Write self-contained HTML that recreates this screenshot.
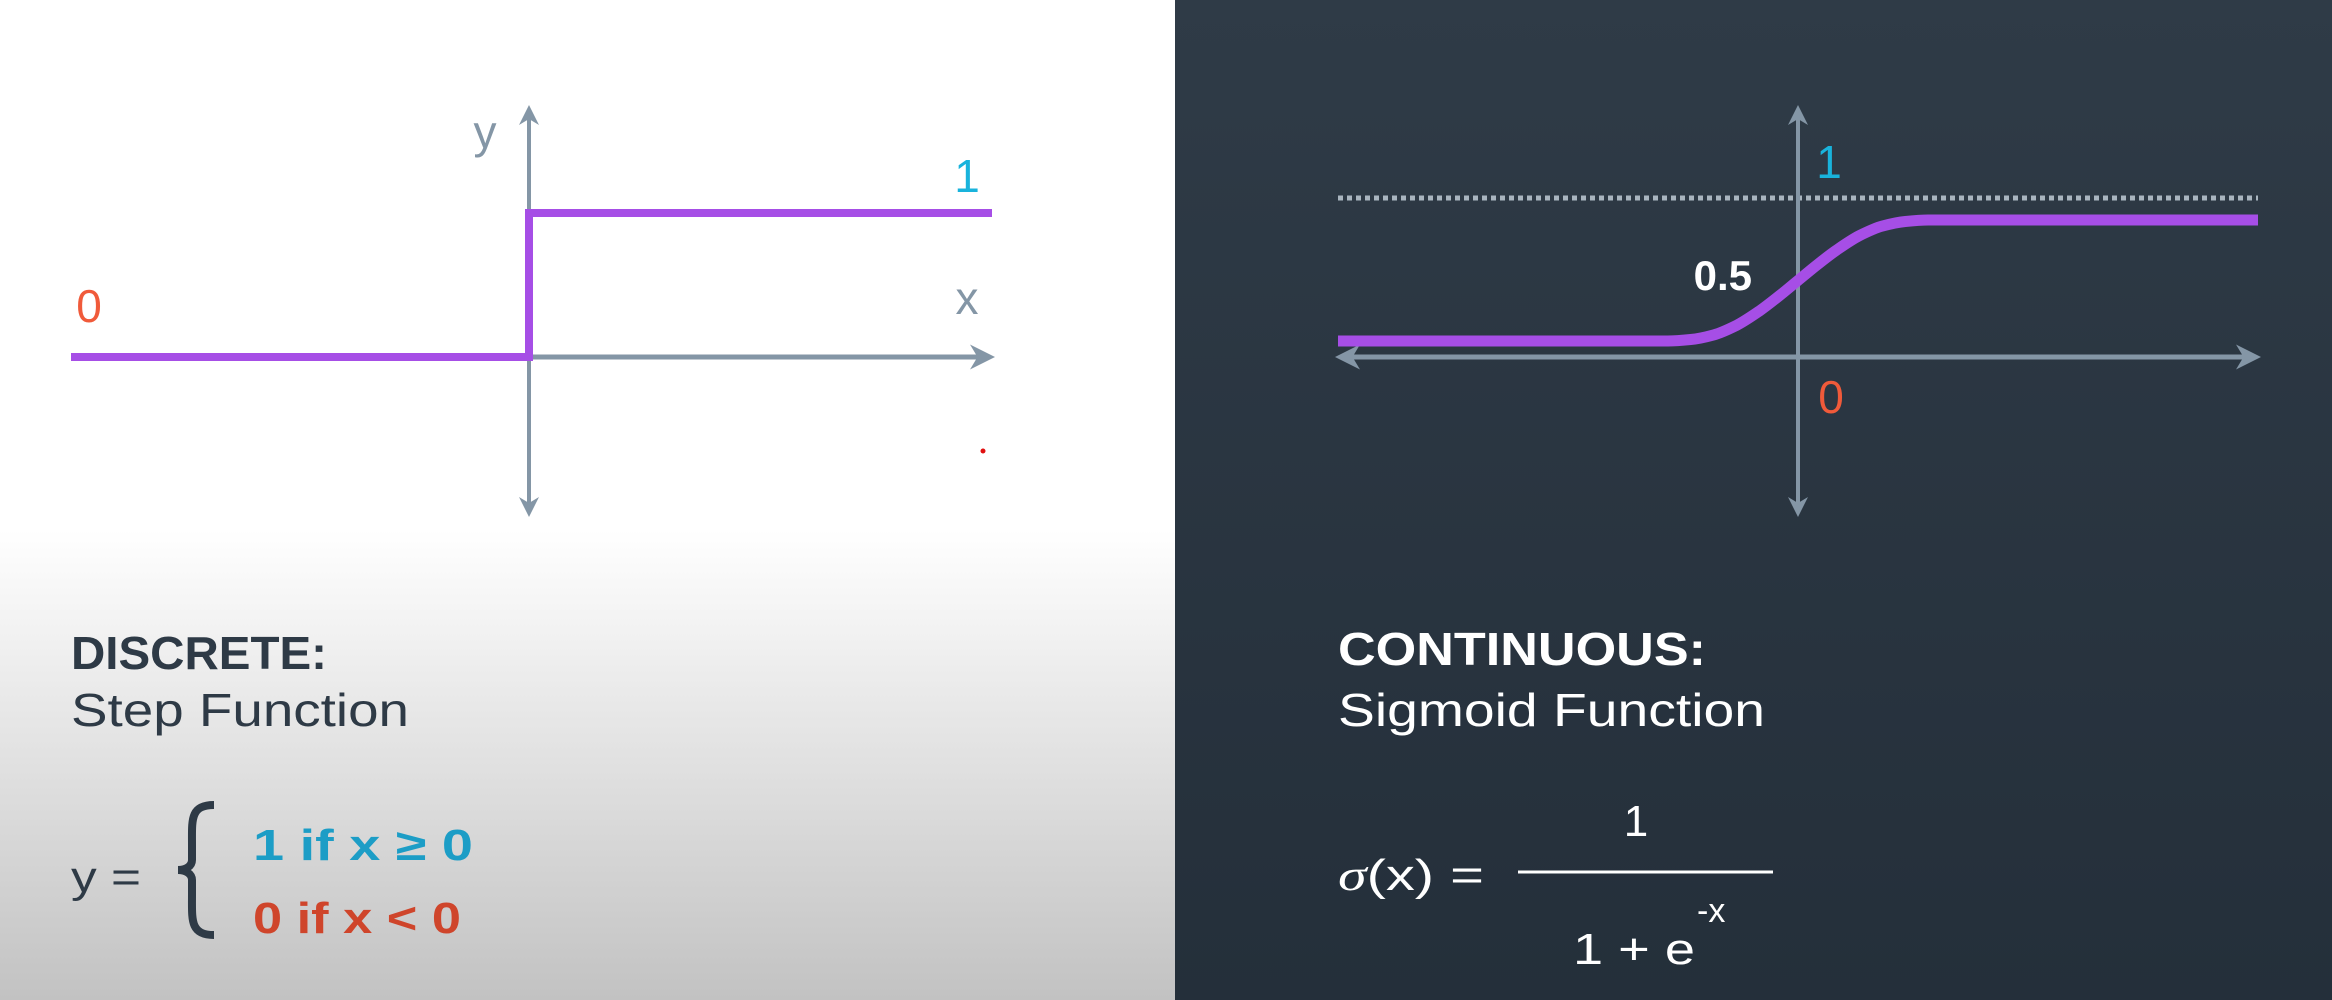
<!DOCTYPE html>
<html><head><meta charset="utf-8"><style>
html,body{margin:0;padding:0;width:2332px;height:1000px;overflow:hidden}
svg{display:block}
text{font-family:"Liberation Sans","DejaVu Sans",sans-serif}
</style></head><body>
<svg id="root" width="2332" height="1000" viewBox="0 0 2332 1000">
<defs>
<linearGradient id="lg" x1="0" y1="0" x2="0" y2="1">
<stop offset="0" stop-color="#ffffff"/><stop offset="0.53" stop-color="#ffffff"/><stop offset="1" stop-color="#c2c2c2"/>
</linearGradient>
<linearGradient id="rg" x1="0" y1="0" x2="0" y2="1">
<stop offset="0" stop-color="#2f3b47"/><stop offset="1" stop-color="#242f3a"/>
</linearGradient>
<marker id="ah" viewBox="0 0 10 10" refX="8" refY="5" markerWidth="5" markerHeight="5" orient="auto-start-reverse"><path d="M0,0 L10,5 L0,10 L3,5 Z" fill="#8496a6"/></marker>
</defs>
<rect x="0" y="0" width="1175" height="1000" fill="url(#lg)"/>
<rect x="1175" y="0" width="1157" height="1000" fill="url(#rg)"/>

<g>
<line x1="529" y1="513" x2="529" y2="109" stroke="#8496a6" stroke-width="4" marker-end="url(#ah)" marker-start="url(#ah)"/>
<line x1="529" y1="357" x2="990" y2="357" stroke="#8496a6" stroke-width="5" marker-end="url(#ah)"/>
<path id="stepPath" fill="none" stroke="#a64ee6" stroke-width="8" stroke-linejoin="miter"/>
<text x="485" y="148" font-size="46" fill="#8496a6" text-anchor="middle">y</text>
<text x="967" y="314" font-size="46" fill="#8496a6" text-anchor="middle">x</text>
<text x="967" y="192" font-size="46" fill="#19b3dc" text-anchor="middle">1</text>
<text x="89" y="322" font-size="46" fill="#f05a3a" text-anchor="middle">0</text>
<circle cx="983" cy="451" r="2.5" fill="#e01010"/>
</g>

<g>
<line x1="1338" y1="198" x2="2258" y2="198" stroke="#a9b5bf" stroke-width="5" stroke-dasharray="5,4"/>
<line x1="1798" y1="513" x2="1798" y2="109" stroke="#8496a6" stroke-width="4" marker-end="url(#ah)" marker-start="url(#ah)"/>
<line x1="1340" y1="357" x2="2256" y2="357" stroke="#8496a6" stroke-width="5" marker-end="url(#ah)" marker-start="url(#ah)"/>
<path id="sigPath" fill="none" stroke="#a64ee6" stroke-width="11" stroke-linejoin="round"/>
<text x="1829" y="178" font-size="46" fill="#19b3dc" text-anchor="middle">1</text>
<text x="1752" y="290" font-size="42" font-weight="bold" fill="#ffffff" text-anchor="end">0.5</text>
<text x="1831" y="413" font-size="46" fill="#f05a3a" text-anchor="middle">0</text>
</g>

<text x="71" y="669" font-size="46" font-weight="bold" fill="#2e3a46" textLength="256" lengthAdjust="spacingAndGlyphs">DISCRETE:</text>
<text x="71" y="726" font-size="46" fill="#2e3a46" textLength="338" lengthAdjust="spacingAndGlyphs">Step Function</text>
<text x="71" y="892" font-size="44" fill="#2e3a46" textLength="70" lengthAdjust="spacingAndGlyphs">y =</text>
<path d="M214,805 C190,805 192,820 192,845 L192,860 C192,866 186,870 178,870 C186,870 192,874 192,880 L192,895 C192,920 190,935 214,935" fill="none" stroke="#2e3a46" stroke-width="8"/>
<text x="253" y="860" font-size="44" font-weight="bold" fill="#1c9dc6" textLength="220" lengthAdjust="spacingAndGlyphs">1 if x  ≥ 0</text>
<text x="253" y="933" font-size="44" font-weight="bold" fill="#cf452b" textLength="208" lengthAdjust="spacingAndGlyphs">0 if x &lt; 0</text>

<text x="1338" y="665" font-size="46" font-weight="bold" fill="#ffffff" textLength="368" lengthAdjust="spacingAndGlyphs">CONTINUOUS:</text>
<text x="1338" y="726" font-size="46" fill="#ffffff" textLength="427" lengthAdjust="spacingAndGlyphs">Sigmoid Function</text>
<text x="1338" y="890" font-size="44" fill="#ffffff" textLength="146" lengthAdjust="spacingAndGlyphs"><tspan font-family="Liberation Serif, serif" font-style="italic">σ</tspan>(x) =</text>
<text x="1636" y="836" font-size="44" fill="#ffffff" text-anchor="middle">1</text>
<line x1="1518" y1="872" x2="1773" y2="872" stroke="#ffffff" stroke-width="3"/>
<text x="1573" y="964" font-size="44" fill="#ffffff" textLength="122" lengthAdjust="spacingAndGlyphs">1 + e</text>
<text x="1697" y="922" font-size="34" fill="#ffffff">-x</text>
</svg>
<script>
const stepX = [-1, 0, 0, 1];
const stepY = [0, 0, 1, 1];
const sigX = [-6, -1.7, -1.4, -1.1, -0.8, -0.5, -0.25, 0, 0.25, 0.5, 0.8, 1.1, 1.4, 1.7, 6];
const sigY = [0, 0, 0.012, 0.05, 0.13, 0.25, 0.37, 0.5, 0.63, 0.75, 0.87, 0.95, 0.988, 1, 1];

function stepSxR(v){ return v <= 0 ? 529 + v * (529 - 71) : 529 + v * (992 - 529); }
function stepSy(v){ return 357 - v * (357 - 213); }
function sigSx(v){ return 1798 + v * (460 / 6); }
function sigSy(v){ return 341 - v * (341 - 220); }

let d = '';
for (let i = 0; i < stepX.length; i++) {
  d += (i ? 'L' : 'M') + stepSxR(stepX[i]).toFixed(1) + ',' + stepSy(stepY[i]).toFixed(1) + ' ';
}
document.getElementById('stepPath').setAttribute('d', d);

const px = sigX.map(sigSx), py = sigY.map(sigSy);
const n = px.length;
const delta = [], m = new Array(n).fill(0);
for (let i = 0; i < n - 1; i++) delta.push((py[i + 1] - py[i]) / (px[i + 1] - px[i]));
m[0] = delta[0]; m[n - 1] = delta[n - 2];
for (let i = 1; i < n - 1; i++) {
  if (delta[i - 1] * delta[i] <= 0) m[i] = 0;
  else {
    const w1 = 2 * (px[i + 1] - px[i]) + (px[i] - px[i - 1]);
    const w2 = (px[i + 1] - px[i]) + 2 * (px[i] - px[i - 1]);
    m[i] = (w1 + w2) / (w1 / delta[i - 1] + w2 / delta[i]);
  }
}
let d2 = 'M' + px[0].toFixed(1) + ',' + py[0].toFixed(1);
for (let i = 0; i < n - 1; i++) {
  const h = px[i + 1] - px[i];
  d2 += ' C' + (px[i] + h / 3).toFixed(1) + ',' + (py[i] + m[i] * h / 3).toFixed(1) + ' ' +
        (px[i + 1] - h / 3).toFixed(1) + ',' + (py[i + 1] - m[i + 1] * h / 3).toFixed(1) + ' ' +
        px[i + 1].toFixed(1) + ',' + py[i + 1].toFixed(1);
}
document.getElementById('sigPath').setAttribute('d', d2);
</script>
</body></html>
